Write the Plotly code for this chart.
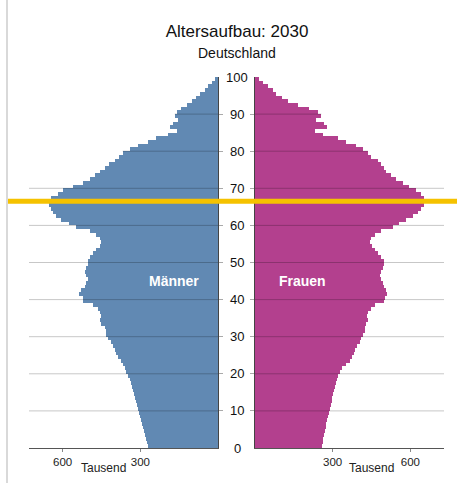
import plotly.graph_objects as go

# ---- data (thousands of persons per single year of age, 2030, Germany) ----
ages = list(range(0, 100))

maenner = [270, 274, 278, 282, 286, 290, 293, 297, 301, 305,
           309, 313, 317, 320, 324, 328, 332, 337, 341, 348,
           354, 360, 367, 373, 386, 393, 399, 406, 412, 425,
           431, 434, 438, 451, 457, 451, 457, 464, 483, 522,
           522, 535, 528, 515, 509, 502, 509, 515, 509, 502,
           502, 496, 483, 470, 457, 451, 457, 470, 496, 548,
           574, 606, 625, 638, 645, 651, 658, 645, 619, 600,
           561, 522, 496, 477, 457, 438, 422, 399, 384, 368,
           341, 310, 271, 238, 194, 160, 186, 174, 155, 167,
           160, 141, 121, 102, 85, 70, 50, 37, 24, 12]

frauen = [258, 261, 264, 267, 270, 273, 276, 279, 282, 286,
          290, 293, 296, 299, 302, 306, 310, 314, 318, 322,
          328, 336, 350, 368, 376, 383, 388, 394, 404, 410,
          417, 423, 423, 429, 436, 432, 436, 449, 462, 500,
          504, 509, 506, 500, 494, 487, 483, 487, 494, 500,
          497, 487, 474, 462, 453, 445, 449, 462, 487, 532,
          558, 583, 609, 628, 641, 654, 658, 654, 641, 622,
          596, 571, 545, 526, 506, 497, 487, 474, 449, 436,
          417, 391, 353, 320, 263, 231, 278, 265, 237, 256,
          244, 209, 167, 128, 103, 83, 71, 51, 32, 17]

age_ticks = [0, 10, 20, 30, 40, 50, 60, 70, 80, 90, 100]
x_ticks = [300, 600]
x_ticktext = ["300", "600"]
marker_age = 66.5

title_text = "Altersaufbau: 2030"
subtitle_text = "Deutschland"
unit_text = "Tausend"
label_m = "Männer"
label_f = "Frauen"

# ---- figure ----
W, H = 457, 483
XMAX = 730
FONT = "Liberation Sans, Arial, sans-serif"
BLUE = "#6189B3"
MAGENTA = "#B3408E"

fig = go.Figure()
fig.add_trace(go.Bar(y=ages, x=maenner, orientation="h", width=1, offset=0,
                     marker=dict(color=BLUE, line=dict(width=0)),
                     xaxis="x", yaxis="y", showlegend=False, hoverinfo="x+y"))
fig.add_trace(go.Bar(y=ages, x=frauen, orientation="h", width=1, offset=0,
                     marker=dict(color=MAGENTA, line=dict(width=0)),
                     xaxis="x2", yaxis="y2", showlegend=False, hoverinfo="x+y"))

ydom = [1 - 448 / H, 1 - 77 / H]
xaxis_common = dict(tickvals=x_ticks, ticktext=x_ticktext,
                    showgrid=False, zeroline=False, showline=True, linecolor="#555555",
                    linewidth=1, ticks="outside", ticklen=3, tickcolor="#888888",
                    tickfont=dict(size=11.5, color="#222222", family=FONT), fixedrange=True)
yaxis_common = dict(range=[0, 100], tickvals=age_ticks[1:-1], showticklabels=False,
                    showgrid=False, zeroline=False, showline=True, linecolor="#444444",
                    linewidth=1, ticks="outside", ticklen=4, tickcolor="#aaaaaa",
                    layer="above traces", domain=ydom, fixedrange=True)

fig.update_layout(
    width=W, height=H,
    margin=dict(l=0, r=0, t=0, b=0),
    paper_bgcolor="white", plot_bgcolor="white",
    bargap=0,
    font=dict(family=FONT, color="#111111"),
    xaxis=dict(domain=[29 / W, 218 / W], range=[XMAX, 0], **xaxis_common),
    xaxis2=dict(domain=[255 / W, 444 / W], range=[0, XMAX], anchor="y2", **xaxis_common),
    yaxis=dict(anchor="x", side="right", **yaxis_common),
    yaxis2=dict(anchor="x2", side="left", **yaxis_common),
    title=dict(text=title_text, x=237 / W, xanchor="center", y=1 - 31 / H, yanchor="middle",
               font=dict(size=17, color="#111111", family=FONT)),
)

ann = [
    dict(text=subtitle_text, x=237 / W, y=1 - 53 / H, xref="paper", yref="paper",
         showarrow=False, font=dict(size=14, color="#111111", family=FONT),
         xanchor="center", yanchor="middle"),
    dict(text=unit_text, x=103 / W, y=1 - 468 / H, xref="paper", yref="paper",
         showarrow=False, font=dict(size=12, color="#222222", family=FONT),
         xanchor="center", yanchor="middle"),
    dict(text=unit_text, x=371 / W, y=1 - 468 / H, xref="paper", yref="paper",
         showarrow=False, font=dict(size=12, color="#222222", family=FONT),
         xanchor="center", yanchor="middle"),
    dict(text="<b>" + label_m + "</b>", x=174 / W, y=45, xref="paper", yref="y",
         showarrow=False, font=dict(size=14, color="white", family=FONT),
         xanchor="center", yanchor="middle"),
    dict(text="<b>" + label_f + "</b>", x=302 / W, y=45, xref="paper", yref="y",
         showarrow=False, font=dict(size=14, color="white", family=FONT),
         xanchor="center", yanchor="middle"),
]
for a in age_ticks:
    ann.append(dict(text=str(a), x=237 / W, y=a, xref="paper", yref="y",
                    showarrow=False, font=dict(size=13, color="#111111", family=FONT),
                    xanchor="center", yanchor="middle"))
fig.update_layout(annotations=ann)

# grid lines drawn over the bars (in the old age range only across the bars)
for a in age_ticks[1:-1]:
    for xr, yr, vals in (("x", "y", maenner), ("x2", "y2", frauen)):
        reach = XMAX if a <= 70 else max(vals[a - 1], vals[a])
        fig.add_shape(type="line", xref=xr, yref=yr, x0=0, x1=reach, y0=a, y1=a,
                      line=dict(color="rgba(0,0,0,0.22)", width=1), layer="above")

fig.add_shape(type="line", xref="paper", yref="paper", x0=7 / W, x1=7 / W, y0=0, y1=1,
              line=dict(color="#cccccc", width=1.5))
fig.add_shape(type="line", xref="paper", yref="y", x0=8 / W, x1=1, y0=marker_age, y1=marker_age,
              line=dict(color="#F5C200", width=5), layer="above")

fig.write_html("out.html", config={"displayModeBar": False})

# remove the browser's default body margin so the figure sits at (0, 0)
with open("out.html", encoding="utf-8") as f:
    html = f.read()
html = html.replace("<body>", '<body style="margin:0;padding:0;overflow:hidden">', 1)
html = html.replace("<head>", '<head><style>html,body{margin:0;padding:0;}</style>', 1)
with open("out.html", "w", encoding="utf-8") as f:
    f.write(html)
